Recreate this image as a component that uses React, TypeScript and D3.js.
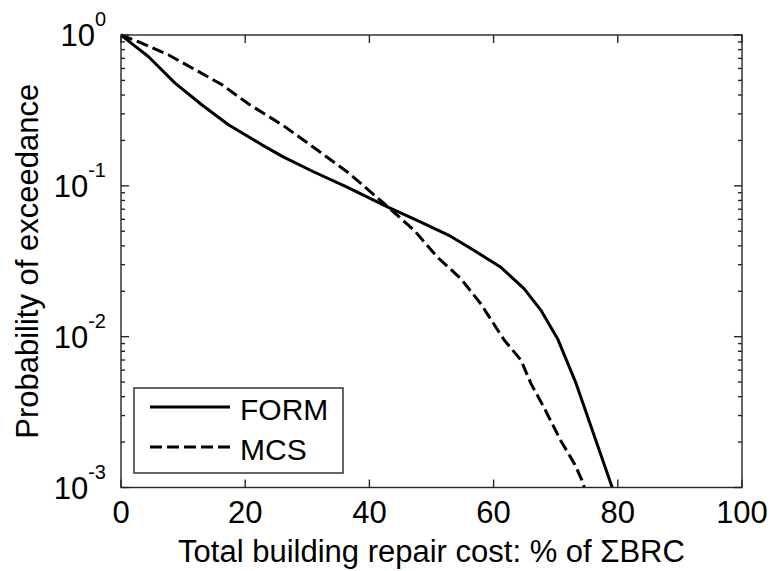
import React from 'react';
import * as d3 from 'd3';

// Exceedance curves: total building repair cost (% of ΣBRC) vs probability
const formCost = [0, 2, 4.4, 8.7, 13, 17.3, 22.7, 26.2, 31, 36.4, 42.9, 48.2, 52.8, 56.8, 61.1, 64.9, 67.6, 70.3, 73.2, 79.1];
const formProb = [1, 0.86, 0.72, 0.48, 0.345, 0.254, 0.187, 0.155, 0.124, 0.098, 0.0726, 0.0577, 0.047, 0.0374, 0.029, 0.0208, 0.015, 0.0097, 0.005, 0.001];

const mcsCost = [0, 3.3, 7.6, 11.9, 16.2, 20.5, 26.2, 31, 36.4, 41.8, 47.2, 50.9, 54.7, 57.9, 61.7, 64.4, 66, 68.1, 70.8, 73, 74.3, 74.6];
const mcsProb = [1, 0.885, 0.74, 0.59, 0.47, 0.35, 0.25, 0.18, 0.124, 0.08, 0.0508, 0.0338, 0.0243, 0.0166, 0.0095, 0.007, 0.0049, 0.0034, 0.00205, 0.00144, 0.0011, 0.001];

const xTicks = [0, 20, 40, 60, 80, 100];
const yExponents = [0, -1, -2, -3];
const seriesNames = ['FORM', 'MCS'];
const xLabel = 'Total building repair cost: % of \u03A3BRC';
const yLabel = 'Probability of exceedance';

const FONT = '"Liberation Sans", Arial, Helvetica, sans-serif';

export default function App() {
  const W = 771;
  const H = 571;
  const left = 121;
  const right = 742;
  const top = 35;
  const bottom = 487.5;
  const fs = 31;
  const legFs = 30;

  const x = d3.scaleLinear().domain([0, 100]).range([left, right]);
  const y = d3.scaleLog().domain([1e-3, 1]).range([bottom, top]);

  const line = d3
    .line<[number, number]>()
    .x((d) => x(d[0]))
    .y((d) => y(d[1]));

  const formPts = formCost.map((c, i) => [c, formProb[i]] as [number, number]);
  const mcsPts = mcsCost.map((c, i) => [c, mcsProb[i]] as [number, number]);

  const minor: number[] = [];
  for (const e of [-3, -2, -1]) {
    for (let k = 2; k <= 9; k++) minor.push(k * Math.pow(10, e));
  }

  const axisColor = '#262626';
  const majorLen = 8;
  const minorLen = 4;

  const legX = 134;
  const legY = 388;
  const legW = 209;
  const legH = 85;
  const dash = '12,5';

  return (
    <svg
      width={W}
      height={H}
      style={{ position: 'absolute', left: 0, top: 0, background: '#fff' }}
      fontFamily={FONT}
    >
      <rect x={0} y={0} width={W} height={H} fill="#fff" />
      <defs>
        <clipPath id="plotArea">
          <rect x={left} y={top - 2} width={right - left} height={bottom - top + 2} />
        </clipPath>
      </defs>

      {/* curves */}
      <g clipPath="url(#plotArea)" fill="none" stroke="#000" strokeWidth={3} strokeLinejoin="round">
        <path d={line(formPts) || ''} />
        <path d={line(mcsPts) || ''} strokeDasharray={dash} />
      </g>

      {/* axes box */}
      <rect x={left} y={top} width={right - left} height={bottom - top} fill="none" stroke={axisColor} strokeWidth={1.4} />

      {/* x ticks (bottom and top, inward) */}
      {xTicks.map((t) => (
        <g key={'xt' + t}>
          <line x1={x(t)} x2={x(t)} y1={bottom} y2={bottom - majorLen} stroke={axisColor} strokeWidth={1.4} />
          <line x1={x(t)} x2={x(t)} y1={top} y2={top + majorLen} stroke={axisColor} strokeWidth={1.4} />
          <text x={x(t)} y={bottom + 35} textAnchor="middle" fontSize={fs} fill="#000">
            {t}
          </text>
        </g>
      ))}

      {/* y major ticks with 10^n labels */}
      {yExponents.map((e) => {
        const yy = y(Math.pow(10, e));
        return (
          <g key={'ye' + e}>
            <line x1={left} x2={left + majorLen} y1={yy} y2={yy} stroke={axisColor} strokeWidth={1.4} />
            <line x1={right} x2={right - majorLen} y1={yy} y2={yy} stroke={axisColor} strokeWidth={1.4} />
            <text x={left - 15} y={yy + 11} textAnchor="end" fontSize={fs} fill="#000">
              10
              <tspan dy={-20} fontSize={20}>
                {e}
              </tspan>
            </text>
          </g>
        );
      })}

      {/* y minor ticks */}
      {minor.map((v) => {
        const yy = y(v);
        return (
          <g key={'ym' + v}>
            <line x1={left} x2={left + minorLen} y1={yy} y2={yy} stroke={axisColor} strokeWidth={1.4} />
            <line x1={right} x2={right - minorLen} y1={yy} y2={yy} stroke={axisColor} strokeWidth={1.4} />
          </g>
        );
      })}

      {/* axis labels */}
      <text x={(left + right) / 2} y={bottom + 74} textAnchor="middle" fontSize={fs} fill="#000">
        {xLabel}
      </text>
      <text
        transform={`translate(38, ${(top + bottom) / 2}) rotate(-90)`}
        textAnchor="middle"
        fontSize={fs}
        fill="#000"
      >
        {yLabel}
      </text>

      {/* legend */}
      <rect x={legX} y={legY} width={legW} height={legH} fill="#fff" stroke={axisColor} strokeWidth={1.4} />
      {seriesNames.map((name, i) => {
        const base = legY + 32 + i * 40;
        return (
          <g key={name}>
            <line
              x1={legX + 16}
              x2={legX + 96}
              y1={base - 13}
              y2={base - 13}
              stroke="#000"
              strokeWidth={3}
              strokeDasharray={i === 1 ? dash : undefined}
            />
            <text x={legX + 106} y={base} fontSize={legFs} fill="#000">
              {name}
            </text>
          </g>
        );
      })}
    </svg>
  );
}
